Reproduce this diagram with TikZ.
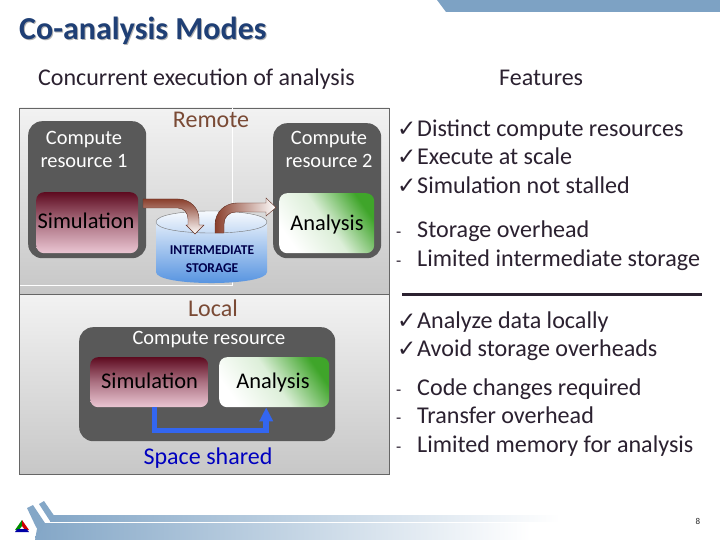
\documentclass[tikz,border=0pt]{standalone}
\usepackage{fontspec}
\setmainfont{Carlito}
\newfontfamily\symfont{DejaVu Sans}
\usetikzlibrary{arrows.meta,calc,shapes.geometric}
\definecolor{txt}{HTML}{2B2130}
\definecolor{barblue}{HTML}{7DA2C4}
\definecolor{titleblue}{HTML}{1F3F75}
\definecolor{res}{HTML}{595959}
\definecolor{brownarrow}{HTML}{8A3F2C}
\definecolor{remote}{HTML}{7A4A35}
\definecolor{greenb}{HTML}{3FA52A}
\definecolor{simtop}{HTML}{5E0B20}
\definecolor{simbot}{HTML}{EBC6D3}
\definecolor{conn}{HTML}{3366F0}
\definecolor{cylbot}{HTML}{4F8FDF}
\tikzset{
  panel/.style={draw=black!60,line width=0.7pt,top color=black!5,bottom color=black!22},
  resbox/.style={fill=res,rounded corners=14pt,inner sep=0pt,anchor=north west},
  simbox/.style={rounded corners=8pt,top color=simtop,bottom color=simbot,middle color=simtop!45!simbot,inner sep=0pt,anchor=north west},
  anabox/.style={rounded corners=8pt,inner sep=0pt,anchor=north west,left color=white,right color=greenb,middle color=greenb!18!white,shading angle=125},
  lab/.style={font=\fontsize{22.4}{26}\selectfont,text=black,inner sep=0pt,anchor=base},
  reslab/.style={font=\fontsize{20.4}{24}\selectfont,text=white,align=center,inner sep=0pt,anchor=base},
  feat/.style={font=\fontsize{24.1}{28}\selectfont,text=txt,anchor=base west,inner sep=0pt},
  chk/.style={font=\symfont\fontsize{23}{26}\selectfont,text=txt,anchor=base west,inner sep=0pt},
  dashm/.style={font=\fontsize{17}{20}\selectfont,text=txt,anchor=base west,inner sep=0pt},
  head/.style={font=\fontsize{24}{28}\selectfont,text=txt,anchor=base west,inner sep=0pt},
  bendarrow/.style={draw=brownarrow!70!black,line width=0.4pt}
}
\begin{document}
\begin{tikzpicture}[x=1pt,y=-1pt]
\useasboundingbox (0,0) rectangle (720,540);
\fill[white] (0,0) rectangle (720,540);
% top bar
\fill[barblue] (437,0) -- (446,12) -- (720,12) -- (720,0) -- cycle;
% bottom band
\shade[left color=barblue!95,right color=white] (50,515) rectangle (560,521);
\shade[left color=barblue!95,right color=white] (38,523) -- (35,540) -- (530,540) -- (530,523) -- cycle;
\fill[barblue!95] (39,504) -- (44,501) -- (55,517) -- (55,521) -- (50,521) -- cycle;
\fill[barblue!95] (27,508) -- (33,505) -- (45,523) -- (40,532) -- (36,527) -- cycle;
% logo
\fill[green!55!black] (22,520) -- (15,530) -- (19,530) -- (22,526) -- cycle;
\fill[red!80!black] (22,520) -- (29,530) -- (25,530) -- (22,526) -- cycle;
\fill[blue!65!black] (15,532) -- (29,532) -- (26.5,529) -- (17.5,529) -- cycle;
% title
\node[anchor=base west,inner sep=0pt,font=\fontsize{32}{36}\selectfont\bfseries,text=black!30] (titleS) at (20,41) {Co-analysis Modes};
\node[anchor=base west,inner sep=0pt,font=\fontsize{32}{36}\selectfont\bfseries,text=titleblue] (title) at (19,40) {Co-analysis Modes};
\node[head] (hconc) at (38,86) {Concurrent execution of analysis};
\node[head] (hfeat) at (499,86) {Features};
% panels
\path[panel] (19.5,108) rectangle (389,294);
\path[panel] (19.5,294) rectangle (389,474);
\draw[white,line width=0.7pt] (232,108) -- (232,285) -- (20,285);
% remote
\node[resbox,minimum width=118pt,minimum height=137pt] (c1) at (28,121) {};
\node[resbox,minimum width=108pt,minimum height=135pt] (c2) at (273,123) {};
\node[reslab] (c1t) at (84,168) {Compute\\resource 1};
\node[reslab] (c2t) at (329,168) {Compute\\resource 2};
\node[simbox,minimum width=102pt,minimum height=61pt] (s1) at (36,192) {};
\node[anabox,minimum width=95pt,minimum height=60pt] (a1) at (279,193) {};
\node[lab] (s1t) at (86,229) {Simulation};
\node[lab] (a1t) at (327,230) {Analysis};
\node[anchor=base,inner sep=0pt,font=\fontsize{24}{28}\selectfont,text=remote] (rem) at (211,128) {Remote};
% cylinder
\path[top color=white,bottom color=cylbot] (156,222) -- (156,272) .. controls (156,286.7) and (267,286.7) .. (267,272) -- (267,222) .. controls (267,207.3) and (156,207.3) .. (156,222) -- cycle;
\draw[black!55,line width=0.4pt] (156,222) .. controls (156,207.3) and (267,207.3) .. (267,222) .. controls (267,236.7) and (156,236.7) .. (156,222) -- cycle;
\node[inner sep=0pt,align=center,font=\fontsize{13.5}{18}\selectfont\bfseries,text=blue!30!black] (st) at (212,259) {INTERMEDIATE\\STORAGE};
% bent arrows
\path[bendarrow,top color=brownarrow,middle color=brownarrow!75!white,bottom color=white]
  (143,199) -- (178,199) .. controls (190,199) and (199,208) .. (199,219) -- (199,225) -- (204,225) -- (195,234) -- (186,225) -- (188,225) -- (188,219) .. controls (188,213) and (184,208) .. (178,208) -- (143,208) -- cycle;
\path[bendarrow,left color=brownarrow,middle color=brownarrow!70!white,right color=white]
  (215,233) -- (215,225) .. controls (215,212) and (225,203) .. (237,203) -- (266,203) -- (266,198) -- (276,207.5) -- (266,216) -- (266,212) -- (236,212) .. controls (229,212) and (224,217) .. (224,224) -- (224,233) -- cycle;
% local
\node[resbox,minimum width=256pt,minimum height=114pt] (c3) at (79,327) {};
\node[simbox,minimum width=118pt,minimum height=50pt] (s2) at (90,357) {};
\node[anabox,minimum width=110pt,minimum height=50pt] (a2) at (219,357) {};
\node[anchor=base,inner sep=0pt,font=\fontsize{24}{28}\selectfont,text=remote] (loc) at (213,316) {Local};
\node[reslab] (c3t) at (209,344) {Compute resource};
\node[lab] (s2t) at (149.5,388) {Simulation};
\node[lab] (a2t) at (273,388) {Analysis};
\draw[conn,line width=5.5pt,-{Triangle[width=13pt,length=14pt]}] ([xshift=5.5pt]s2.south) |- ++(0,23) -| ([xshift=-8pt]a2.south);
\node[anchor=base,inner sep=0pt,font=\fontsize{24}{28}\selectfont,text=blue!75!black] (sp) at (208,464) {Space shared};
% features
\node[chk] (k1) at (397,137) {✓};
\node[feat] (f1) at (417,137) {Distinct compute resources};
\node[chk] (k2) at (397,165) {✓};
\node[feat] (f2) at (417,165) {Execute at scale};
\node[chk] (k3) at (397,194) {✓};
\node[feat] (f3) at (417,194) {Simulation not stalled};
\node[dashm] (d1) at (396,237) {-};
\node[feat] (f4) at (417,237) {Storage overhead};
\node[dashm] (d2) at (396,266) {-};
\node[feat] (f5) at (417,266) {Limited intermediate storage};
\coordinate (ruleL) at (402,294);
\coordinate (ruleR) at (702,294);
\draw[line width=3pt,color=txt] (ruleL) -- (ruleR);
\node[chk] (k4) at (397,328) {✓};
\node[feat] (f6) at (417,328) {Analyze data locally};
\node[chk] (k5) at (397,356) {✓};
\node[feat] (f7) at (417,356) {Avoid storage overheads};
\node[dashm] (d3) at (396,395) {-};
\node[feat] (f8) at (417,395) {Code changes required};
\node[dashm] (d4) at (396,423) {-};
\node[feat] (f9) at (417,423) {Transfer overhead};
\node[dashm] (d5) at (396,452) {-};
\node[feat] (f10) at (417,452) {Limited memory for analysis};
\node[inner sep=0pt,font=\fontsize{9}{10}\selectfont,text=black!85] (pg) at (698,521) {8};
\end{tikzpicture}
\end{document}
